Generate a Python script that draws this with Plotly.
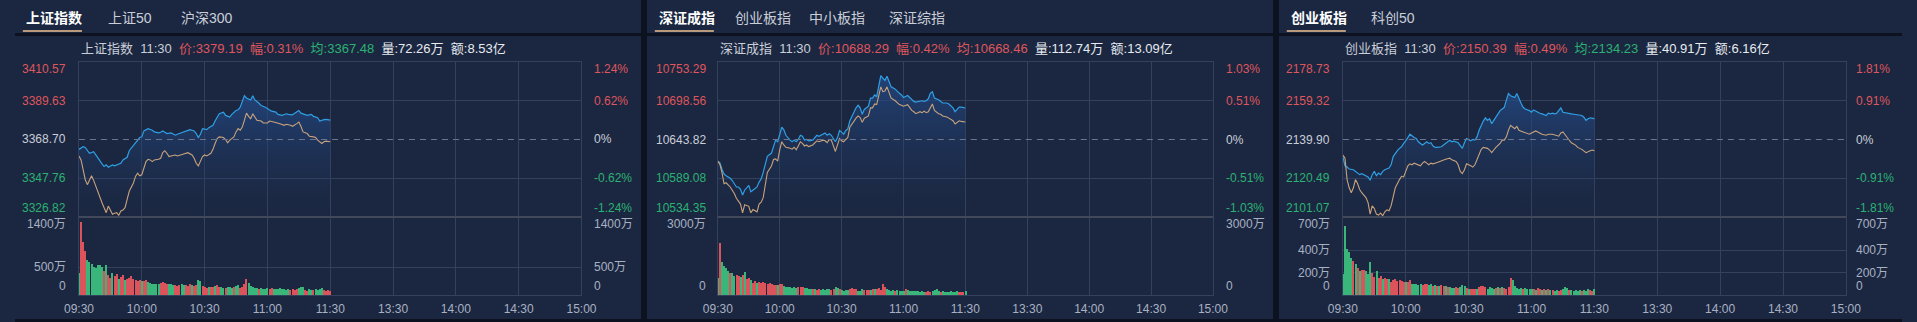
import plotly.graph_objects as go

# ---------------- data ----------------
time_ticks = [0, 30, 60, 90, 120, 150, 180, 210, 240]
time_labels = ['09:30', '10:00', '10:30', '11:00', '11:30', '13:30', '14:00', '14:30', '15:00']

# Panel 1 : 上证指数
sh_prev = 3368.70
sh_price_ticks = [3326.82, 3347.76, 3368.70, 3389.63, 3410.57]
sh_pct_labels = ['-1.24%', '-0.62%', '0%', '0.62%', '1.24%']
sh_vol_ticks = [0, 500, 1400]
sh_vol_labels = ['0', '500万', '1400万']
sh_price_min = [0, 2, 3, 4, 5, 7, 8, 9, 10, 11, 12, 13, 14, 16, 17, 19, 20, 21, 23, 24, 26, 28, 29, 30, 31, 33, 35, 36, 38, 39,
                40, 41, 42, 44, 46, 47, 49, 50, 52, 53, 55, 56, 57, 58, 59, 61, 62, 64, 65, 67, 69, 70, 72, 73, 75, 76, 77, 78, 79, 80,
                82, 83, 84, 86, 87, 89, 91, 92, 94, 95, 97, 99, 100, 102, 103, 105, 106, 107, 109, 111, 112, 114, 115, 117, 118, 120]
sh_price = [3363.36, 3364.78, 3364.43, 3362.64, 3361.22, 3362.11, 3360.33, 3358.55, 3356.77, 3355.52,
            3354.10, 3354.99, 3353.74, 3354.99, 3354.45, 3355.52, 3355.88, 3357.66, 3359.08, 3362.64,
            3365.67, 3368.34, 3369.77, 3370.12, 3373.33, 3374.58, 3373.69, 3372.80, 3372.26, 3372.62,
            3373.33, 3372.62, 3371.91, 3372.26, 3371.02, 3371.55, 3372.26, 3372.80, 3373.33, 3374.04,
            3373.33, 3371.91, 3369.77, 3371.55, 3374.58, 3374.04, 3375.11, 3376.36, 3378.67, 3382.59,
            3383.48, 3381.70, 3380.81, 3382.24, 3384.37, 3384.73, 3386.15, 3389.72, 3392.39, 3391.14,
            3390.07, 3392.39, 3390.07, 3388.29, 3387.04, 3386.15, 3384.73, 3384.02, 3383.48, 3382.24,
            3381.70, 3382.59, 3382.24, 3382.06, 3382.95, 3384.37, 3382.95, 3382.59, 3381.70, 3382.24,
            3381.17, 3380.45, 3378.67, 3379.39, 3379.56, 3379.19]
sh_avg_min = [0, 1, 2, 3, 4, 5, 6, 7, 8, 9, 10, 11, 12, 13, 14, 15, 16, 17, 18, 19, 20, 21, 22, 23, 24,
              26, 27, 28, 29, 30, 31, 32, 33, 34, 35, 36, 38, 39, 40, 41, 42, 43, 44, 46, 47, 49, 50,
              52, 53, 54, 55, 56, 57, 58, 59, 60, 61, 63, 64, 65, 66, 67, 69, 70, 71, 72,
              74, 75, 76, 77, 78, 79, 80, 81, 82, 83, 84, 85, 87, 88, 90, 91, 93, 95, 96, 98, 99,
              101, 102, 104, 105, 106, 107, 109, 110, 112, 113, 114, 116, 117, 118, 120]
sh_avg = [3359.79, 3357.66, 3352.31, 3346.97, 3344.30, 3346.97, 3349.11, 3346.62, 3343.41, 3339.85,
          3337.18, 3334.50, 3331.83, 3329.16, 3332.72, 3330.05, 3328.27, 3328.81, 3329.16, 3327.74,
          3330.05, 3330.59, 3331.83, 3336.29, 3340.74, 3345.19, 3348.75, 3350.53, 3349.11, 3349.64,
          3352.67, 3356.77, 3358.01, 3357.66, 3356.77, 3357.66, 3358.01, 3358.55, 3361.58, 3362.64,
          3361.22, 3359.44, 3359.79, 3360.33, 3359.79, 3360.33, 3360.86, 3361.58, 3360.86, 3360.33,
          3358.55, 3355.88, 3354.45, 3356.77, 3359.44, 3360.33, 3359.79, 3361.22, 3363.36, 3366.56,
          3369.23, 3370.12, 3369.77, 3368.70, 3366.92, 3368.34, 3370.12, 3372.80, 3374.58, 3373.69,
          3375.47, 3379.03, 3382.95, 3381.17, 3379.92, 3382.59, 3380.45, 3379.03, 3378.67, 3377.61,
          3377.61, 3378.67, 3378.14, 3377.61, 3377.25, 3376.36, 3376.89, 3376.36, 3375.82, 3377.25,
          3378.14, 3375.82, 3372.80, 3371.91, 3370.48, 3370.12, 3369.77, 3368.34, 3366.56, 3367.45,
          3367.81, 3367.48]
sh_vol = [394, 1305, 953, 794, 629, 600, 559, 500, 488, 547, 547, 500, 429, 541, 353, 312, 394, 335, 370, 294,
          323, 353, 265, 294, 312, 335, 294, 265, 247, 265, 247, 247, 265, 229, 218, 206, 206, 194, 206, 218,
          229, 218, 206, 194, 206, 176, 171, 159, 171, 194, 171, 176, 159, 194, 171, 159, 176, 265, 247, 159,
          147, 124, 147, 135, 147, 159, 176, 147, 135, 124, 118, 147, 135, 124, 135, 159, 176, 118, 147, 206,
          288, 218, 159, 135, 124, 118, 112, 118, 112, 106, 118, 112, 124, 100, 112, 100, 118, 100, 112, 88,
          100, 88, 100, 88, 106, 124, 135, 147, 88, 76, 112, 88, 88, 100, 88, 112, 124, 88, 76, 88, 76]
sh_vol_dir = list("GRRRGGGGGG" "GGRGRRGRRG" "RRGRRRRRRR" "GRRGGGGGGR" "RRRGGGRRRG" "GRRRGRRGGR"
                  "RRGRRGRRGG" "RGGGRGGRRR" "RGGGGGRGGG" "GRRGGGGGGG" "GRRRRGGGRR" "GGRGGGGRRR" "R")

# Panel 2 : 深证成指
sz_prev = 10643.82
sz_price_ticks = [10534.35, 10589.08, 10643.82, 10698.56, 10753.29]
sz_pct_labels = ['-1.03%', '-0.51%', '0%', '0.51%', '1.03%']
sz_vol_ticks = [0, 3000]
sz_vol_labels = ['0', '3000万']
sz_min = [0, 1, 2, 3, 4, 6, 7, 8, 9, 10, 11, 12, 13, 15, 16, 17, 18, 19, 20, 21, 22, 23, 24, 26, 27, 28, 29, 30,
          31, 32, 33, 35, 36, 37, 38, 39, 40, 41, 42, 43, 44, 46, 47, 48, 49, 51, 52, 53, 54, 55, 57, 58, 59, 60,
          61, 62, 63, 64, 66, 67, 68, 69, 70, 71, 73, 74, 75, 76, 77, 78, 79, 80, 81, 82, 83, 84, 86, 87, 88, 89,
          90, 92, 93, 94, 95, 96, 98, 99, 100, 101, 102, 103, 104, 105, 107, 108, 109, 111, 112, 114, 115, 116,
          117, 118, 120]
sz_price = [10613.25, 10610.97, 10601.85, 10595.01, 10592.73, 10589.08, 10585.88, 10581.32, 10576.76, 10576.76,
            10573.57, 10565.35, 10572.20, 10579.04, 10569.92, 10572.20, 10574.48, 10576.76, 10583.60, 10588.16,
            10597.29, 10610.97, 10620.10, 10624.66, 10632.87, 10642.91, 10640.63, 10649.75, 10661.16, 10657.51,
            10649.75, 10642.91, 10640.63, 10642.91, 10640.63, 10643.82, 10649.75, 10648.38, 10642.91, 10643.82,
            10642.00, 10642.91, 10646.56, 10649.75, 10648.38, 10652.03, 10652.94, 10649.75, 10652.03, 10649.75,
            10640.63, 10646.56, 10656.59, 10654.31, 10651.12, 10656.59, 10658.87, 10670.28, 10683.97, 10688.53,
            10692.18, 10688.53, 10679.40, 10686.25, 10690.81, 10702.21, 10702.21, 10706.78, 10704.49, 10720.46,
            10734.15, 10730.50, 10727.30, 10733.24, 10724.11, 10718.18, 10714.99, 10711.34, 10709.06, 10706.78,
            10703.13, 10705.86, 10703.13, 10701.30, 10697.65, 10696.74, 10697.65, 10698.56, 10697.65, 10698.56,
            10701.30, 10709.06, 10711.34, 10702.21, 10699.93, 10697.65, 10695.37, 10695.37, 10694.00, 10688.53,
            10683.05, 10686.25, 10689.44, 10689.44, 10688.29]
sz_avg = [10613.25, 10608.69, 10597.29, 10581.32, 10582.69, 10576.76, 10572.20, 10567.63, 10560.79, 10557.14,
          10552.58, 10540.26, 10551.67, 10549.39, 10540.26, 10544.83, 10543.46, 10541.63, 10552.58, 10555.32,
          10561.70, 10579.04, 10597.29, 10606.41, 10615.54, 10616.45, 10613.25, 10629.22, 10640.63, 10636.06,
          10632.87, 10631.50, 10630.13, 10632.87, 10629.22, 10634.70, 10640.63, 10638.35, 10634.70, 10636.06,
          10633.78, 10636.06, 10638.35, 10642.00, 10640.63, 10642.91, 10642.00, 10639.26, 10643.82, 10642.91,
          10626.94, 10636.06, 10645.19, 10642.00, 10640.63, 10643.82, 10646.56, 10661.16, 10670.28, 10673.93,
          10677.12, 10674.84, 10668.00, 10673.93, 10677.12, 10688.53, 10688.53, 10694.00, 10693.09, 10704.49,
          10718.18, 10711.34, 10712.25, 10718.18, 10709.06, 10702.21, 10698.56, 10695.37, 10693.09, 10692.18,
          10690.81, 10693.09, 10688.53, 10684.88, 10683.05, 10680.32, 10683.05, 10681.68, 10683.97, 10681.68,
          10683.05, 10688.53, 10694.00, 10684.88, 10680.32, 10679.40, 10677.12, 10675.75, 10673.93, 10670.28,
          10665.72, 10668.00, 10670.28, 10669.37, 10668.46]
sz_vol = [641, 2013, 1282, 1115, 1026, 936, 833, 859, 731, 769, 731, 679, 769, 872, 603, 641, 577, 474, 551, 449,
          513, 474, 513, 449, 423, 474, 423, 385, 385, 385, 423, 410, 346, 321, 295, 295, 282, 295, 269, 321,
          321, 295, 256, 256, 244, 244, 218, 244, 192, 218, 192, 218, 192, 218, 244, 192, 218, 295, 256, 218,
          192, 167, 192, 179, 218, 256, 244, 218, 167, 167, 218, 192, 192, 192, 192, 218, 244, 218, 256, 192,
          423, 321, 218, 192, 167, 192, 167, 192, 167, 141, 167, 218, 192, 167, 141, 167, 141, 141, 128, 167,
          128, 128, 141, 128, 141, 192, 218, 141, 128, 141, 128, 115, 128, 141, 115, 128, 141, 115, 128, 115, 141]
sz_vol_dir = list("GRGGGGRGGR" "RGRGRRGRRG" "RRRRRRRRRG" "RRGGGGGGGR" "RRGGGGRGRR" "GGGGGRRGGR"
                  "GGGGRRRRGG" "GRRRGRGRRR" "RRGGGGRGGG" "GRGGGGGGGG" "GRRRGGGGRG" "GGGGGGGRRR" "G")

# Panel 3 : 创业板指
cy_prev = 2139.90
cy_price_ticks = [2101.07, 2120.49, 2139.90, 2159.32, 2178.73]
cy_pct_labels = ['-1.81%', '-0.91%', '0%', '0.91%', '1.81%']
cy_vol_ticks = [0, 200, 400, 700]
cy_vol_labels = ['0', '200万', '400万', '700万']
cy_price_min = [0, 1, 2, 3, 5, 6, 7, 8, 9, 11, 12, 13, 14, 15, 16, 17, 18, 19, 20, 22, 23, 24, 25, 26, 27, 28, 29, 30,
                32, 33, 34, 35, 36, 37, 38, 39, 40, 41, 42, 43, 44, 45, 47, 48, 49, 50, 51, 52, 53, 55, 56, 57, 58,
                59, 61, 62, 63, 64, 65, 66, 67, 68, 69, 70, 71, 72, 73, 74, 75, 76, 77, 78, 79, 80, 82, 83, 84, 85,
                86, 87, 89, 90, 91, 92, 93, 94, 95, 97, 98, 99, 100, 101, 102, 103, 104, 105, 107, 108, 109, 111,
                112, 114, 115, 116, 117, 118, 120]
cy_price = [2131.34, 2126.73, 2126.07, 2125.09, 2124.76, 2123.93, 2123.44, 2122.29, 2122.78, 2121.79,
            2121.14, 2119.49, 2122.29, 2123.93, 2121.79, 2123.11, 2122.29, 2123.93, 2124.76, 2125.58,
            2127.23, 2131.34, 2132.99, 2134.30, 2135.46, 2136.28, 2137.92, 2139.24, 2142.53, 2141.55,
            2140.89, 2140.39, 2138.75, 2137.92, 2137.10, 2137.92, 2138.75, 2137.92, 2138.25, 2136.61,
            2135.95, 2135.95, 2136.28, 2137.10, 2137.92, 2138.75, 2139.57, 2138.75, 2139.08, 2138.25,
            2137.10, 2135.46, 2138.25, 2140.39, 2139.24, 2139.90, 2139.57, 2141.22, 2144.51, 2146.98,
            2149.12, 2150.76, 2149.45, 2150.27, 2147.80, 2149.45, 2151.09, 2152.74, 2154.38, 2155.21,
            2156.03, 2159.65, 2162.94, 2161.79, 2160.97, 2162.94, 2160.15, 2158.01, 2156.03, 2155.21,
            2154.38, 2153.56, 2154.71, 2154.06, 2153.56, 2153.07, 2152.74, 2151.92, 2153.07, 2152.74,
            2153.07, 2152.74, 2153.07, 2154.38, 2155.70, 2153.56, 2153.07, 2152.74, 2152.74, 2152.41,
            2152.25, 2151.92, 2151.09, 2149.45, 2150.27, 2150.76, 2150.39]
cy_avg_min = [0, 1, 2, 3, 4, 5, 6, 7, 8, 9, 11, 12, 13, 14, 15, 16, 17, 18, 19, 20, 21, 22, 23, 24, 25, 27, 28, 29,
              30, 31, 32, 33, 34, 36, 37, 38, 39, 40, 41, 42, 43, 45, 46, 48, 49, 51, 52, 54, 55, 56, 57, 58, 59,
              61, 62, 63, 64, 65, 66, 67, 69, 70, 71, 72, 73, 75, 76, 77, 78, 79, 80, 81, 82, 83, 84, 86, 87, 89,
              90, 92, 93, 94, 95, 97, 98, 100, 102, 103, 104, 105, 107, 108, 109, 111, 112, 114, 115, 116, 118,
              119, 120]
cy_avg = [2132.16, 2130.52, 2119.82, 2115.70, 2113.23, 2115.70, 2119.82, 2117.84, 2114.88, 2113.23,
          2110.77, 2108.30, 2102.54, 2106.65, 2105.33, 2102.54, 2102.04, 2103.03, 2101.71, 2103.69,
          2104.68, 2104.18, 2106.65, 2111.59, 2115.70, 2119.82, 2121.46, 2121.14, 2123.93, 2126.73,
          2127.72, 2127.23, 2128.05, 2127.23, 2126.73, 2128.05, 2128.87, 2128.05, 2127.23, 2128.05,
          2127.72, 2128.38, 2128.87, 2129.69, 2130.02, 2130.52, 2129.69, 2128.87, 2127.23, 2123.93,
          2122.78, 2124.76, 2127.72, 2126.73, 2126.07, 2127.23, 2129.69, 2132.99, 2134.96, 2135.95,
          2135.46, 2134.63, 2133.32, 2134.63, 2135.95, 2137.92, 2139.57, 2139.57, 2141.22, 2144.51,
          2146.98, 2146.15, 2145.33, 2146.48, 2144.51, 2143.69, 2143.19, 2142.53, 2143.19, 2144.18,
          2143.69, 2143.19, 2142.53, 2142.04, 2142.53, 2142.53, 2142.04, 2141.55, 2143.19, 2143.69,
          2140.89, 2139.57, 2138.25, 2137.10, 2135.95, 2134.96, 2134.30, 2133.32, 2134.30, 2134.63,
          2134.23]
cy_vol = [185, 617, 412, 382, 332, 303, 279, 244, 215, 226, 226, 215, 191, 294, 197, 162, 215, 156, 168, 144,
          150, 144, 147, 115, 132, 147, 126, 132, 126, 118, 121, 121, 132, 103, 97, 97, 94, 97, 91, 103,
          97, 91, 97, 85, 88, 79, 85, 88, 85, 79, 74, 68, 62, 65, 68, 62, 68, 88, 79, 62,
          56, 50, 56, 50, 56, 68, 79, 79, 68, 56, 68, 62, 56, 62, 68, 59, 68, 62, 56, 74,
          150, 132, 79, 62, 56, 62, 56, 62, 56, 50, 56, 50, 44, 62, 50, 44, 50, 44, 50, 44,
          44, 38, 44, 38, 44, 50, 68, 62, 44, 44, 38, 44, 38, 44, 38, 44, 38, 50, 44, 38, 50]
cy_vol_dir = list("GGGGGRGRGR" "RGGGRRGRRG" "RRGRRRRRRR" "GRRGGGGGRR" "RGGRGRGRRG" "RGGGRRGGGR"
                  "GRRRGRRRRG" "GGGRGRGRRR" "RGGGGGRGGG" "GRGRRGRGRG" "RGGRRGGGRG" "GGGGRGGGRR" "G")

# header texts
sh_tabs = ['上证指数', '上证50', '沪深300']
sz_tabs = ['深证成指', '创业板指', '中小板指', '深证综指']
cy_tabs = ['创业板指', '科创50']
sh_info = dict(name='上证指数', time='11:30', price='3379.19', chg='0.31%', avg='3367.48', vol='72.26万', amt='8.53亿')
sz_info = dict(name='深证成指', time='11:30', price='10688.29', chg='0.42%', avg='10668.46', vol='112.74万', amt='13.09亿')
cy_info = dict(name='创业板指', time='11:30', price='2150.39', chg='0.49%', avg='2134.23', vol='40.91万', amt='6.16亿')

# ---------------- style / layout ----------------
W, H = 1917, 322
BG = '#1b2741'
DARK = '#0c121f'
GRID = '#33415d'
SEP = '#464b58'
RED = '#df565c'
GREEN = '#2cb172'
GREY = '#a9b1c1'
LIGHT = '#c9ced8'
WHITE = '#e8ebf0'
BLUE = '#2f9fe5'
TAN = '#c8a27d'
BAR_RED = '#dc545b'
BAR_GREEN = '#3ab67a'
UNDER = '#b99a7c'
FONT = 'Liberation Sans, Noto Sans CJK SC, sans-serif'

PRICE_TOP, PRICE_BOT, VOL_BOT = 62, 217, 295


def fx(p):
    return p / W


def fy(p):
    return 1 - p / H


panels = [
    dict(left=65, right=575.5, llab=54, rlab=586, tabx=[9, 92, 167], ul=(8, 68), tabs=sh_tabs, info=sh_info,
         prev=sh_prev, pt=sh_price_ticks, pct=sh_pct_labels, vt=sh_vol_ticks, vl=sh_vol_labels,
         pm=sh_price_min, p=sh_price, am=sh_avg_min, a=sh_avg, v=sh_vol, vd=sh_vol_dir),
    dict(left=714, right=1217, llab=704, rlab=1228, tabx=[652, 729, 805, 886], ul=(650, 710), tabs=sz_tabs,
         info=sz_info, prev=sz_prev, pt=sz_price_ticks, pct=sz_pct_labels, vt=sz_vol_ticks, vl=sz_vol_labels,
         pm=sz_min, p=sz_price, am=sz_min, a=sz_avg, v=sz_vol, vd=sz_vol_dir),
    dict(left=1349, right=1860, llab=1338, rlab=1868, tabx=[1294, 1376], ul=(1292, 1352), tabs=cy_tabs,
         info=cy_info, prev=cy_prev, pt=cy_price_ticks, pct=cy_pct_labels, vt=cy_vol_ticks, vl=cy_vol_labels,
         pm=cy_price_min, p=cy_price, am=cy_avg_min, a=cy_avg, v=cy_vol, vd=cy_vol_dir),
]

fig = go.Figure()
layout = dict(width=W, height=H, margin=dict(l=0, r=0, t=0, b=0), paper_bgcolor=BG, plot_bgcolor=BG,
              showlegend=False, font=dict(family=FONT, color=GREY, size=12), bargap=0)
annotations = []
shapes = []


def aid(n):
    return '' if n == 1 else str(n)


label_colors = [GREEN, GREEN, LIGHT, RED, RED]
label_anchor = ['bottom', 'middle', 'middle', 'middle', 'top']
label_shift = [0, 0, 0, 0, 2]

for k, pn in enumerate(panels):
    n_p, n_v = 2 * k + 1, 2 * k + 2
    xp, yp = 'x' + aid(n_p), 'y' + aid(n_p)
    xv, yv = 'x' + aid(n_v), 'y' + aid(n_v)
    dom = [fx(pn['left']), fx(pn['right'])]
    pt = pn['pt']
    common_x = dict(domain=dom, range=[0, 240], tickmode='array', tickvals=time_ticks, showgrid=True,
                    gridcolor=GRID, gridwidth=1, zeroline=False, showline=True, linecolor=GRID, linewidth=1,
                    mirror=True, ticks='', fixedrange=True)
    layout['xaxis' + aid(n_p)] = dict(common_x, anchor=yp, showticklabels=False)
    layout['xaxis' + aid(n_v)] = dict(common_x, anchor=yv, showticklabels=True, ticktext=time_labels,
                                      tickfont=dict(size=12, color=GREY, family=FONT), ticklabelstandoff=3)
    layout['yaxis' + aid(n_p)] = dict(domain=[fy(PRICE_BOT), fy(PRICE_TOP)], range=[pt[0], pt[-1]], anchor=xp,
                                      tickmode='array', tickvals=[pt[1], pt[3]], showticklabels=False,
                                      showgrid=True, gridcolor=GRID, zeroline=False, showline=True,
                                      linecolor=GRID, mirror=True, fixedrange=True)
    vgrid = [t for t in pn['vt'] if 0 < t < pn['vt'][-1]]
    layout['yaxis' + aid(n_v)] = dict(domain=[fy(VOL_BOT), fy(PRICE_BOT)], range=[0, pn['vt'][-1]], anchor=xv,
                                      tickmode='array', tickvals=vgrid, showticklabels=False,
                                      showgrid=True, gridcolor=GRID, zeroline=False, showline=True,
                                      linecolor=GRID, mirror=True, fixedrange=True)

    # price with gradient fill
    fig.add_trace(go.Scatter(x=pn['pm'], y=pn['p'], mode='lines', line=dict(color=BLUE, width=1.2),
                             fill='tozeroy',
                             fillgradient=dict(type='vertical',
                                               colorscale=[[0, 'rgba(30,50,85,0.0)'], [1, 'rgba(36,76,138,0.75)']],
                                               start=pt[0], stop=max(pn['p'])),
                             xaxis=xp, yaxis=yp, hoverinfo='skip'))
    fig.add_trace(go.Scatter(x=pn['am'], y=pn['a'], mode='lines', line=dict(color=TAN, width=1.1),
                             xaxis=xp, yaxis=yp, hoverinfo='skip'))
    # volume bars
    fig.add_trace(go.Bar(x=list(range(len(pn['v']))), y=pn['v'],
                         marker=dict(color=[BAR_RED if d == 'R' else BAR_GREEN for d in pn['vd']], line_width=0),
                         width=0.5, xaxis=xv, yaxis=yv, hoverinfo='skip'))

    # dashed previous close line
    shapes.append(dict(type='line', xref=xp + ' domain', x0=0, x1=1, yref=yp, y0=pn['prev'], y1=pn['prev'],
                       line=dict(color='#6c7590', width=1, dash='6px,5px'), layer='above'))
    # price / volume separator
    shapes.append(dict(type='line', xref='paper', x0=dom[0], x1=dom[1], yref='paper', y0=fy(PRICE_BOT),
                       y1=fy(PRICE_BOT), line=dict(color=SEP, width=1.6), layer='above'))

    # price axis labels (left) and percentage labels (right)
    for i, v in enumerate(pt):
        txt_l = '%.2f' % v
        for xx, anchor, txt in ((pn['llab'], 'right', txt_l), (pn['rlab'], 'left', pn['pct'][i])):
            annotations.append(dict(xref='paper', x=fx(xx), xanchor=anchor, yref=yp, y=v,
                                    yanchor=label_anchor[i], yshift=label_shift[i], text=txt, showarrow=False,
                                    font=dict(size=12, color=label_colors[i], family=FONT)))
    # volume labels
    vmax = pn['vt'][-1]
    for v, lab in zip(pn['vt'], pn['vl']):
        ya = 'bottom' if v == 0 else ('top' if v == vmax else 'middle')
        ys = 2 if v == vmax else 0
        for xx, anchor in ((pn['llab'], 'right'), (pn['rlab'], 'left')):
            annotations.append(dict(xref='paper', x=fx(xx), xanchor=anchor, yref=yv, y=v, yanchor=ya, yshift=ys,
                                    text=lab, showarrow=False, font=dict(size=12, color=GREY, family=FONT)))

    # info line
    info = pn['info']
    avg_col = RED if float(info['avg']) > pn['prev'] else GREEN
    sp = '&nbsp; '
    info_txt = (f"<span style='color:{LIGHT}'>{info['name']}{sp}{info['time']}</span>{sp}"
                f"<span style='color:{RED}'>价:{info['price']}</span>{sp}"
                f"<span style='color:{RED}'>幅:{info['chg']}</span>{sp}"
                f"<span style='color:{avg_col}'>均:{info['avg']}</span>{sp}"
                f"<span style='color:{WHITE}'>量:{info['vol']}</span>{sp}"
                f"<span style='color:{WHITE}'>额:{info['amt']}</span>")
    annotations.append(dict(xref='paper', yref='paper', x=fx(pn['left']), y=fy(48), xanchor='left',
                            yanchor='middle', text=info_txt, showarrow=False,
                            font=dict(size=13, family=FONT, color=LIGHT)))

    # tabs
    for j, (tx, tab) in enumerate(zip(pn['tabx'], pn['tabs'])):
        annotations.append(dict(xref='paper', yref='paper', x=fx(tx), y=fy(18), xanchor='left', yanchor='middle',
                                text=f'<b>{tab}</b>' if j == 0 else tab, showarrow=False,
                                font=dict(size=14, family=FONT, color='#ffffff' if j == 0 else LIGHT)))
    shapes.append(dict(type='rect', xref='paper', yref='paper', x0=fx(pn['ul'][0]), x1=fx(pn['ul'][1]),
                       y0=fy(32), y1=fy(30), line_width=0, fillcolor=UNDER, layer='above'))

# dark separators
for (x0, x1, y0, y1) in [(0, W, 33, 36), (0, W, 319, 322), (636, 642, 0, H), (1278, 1284, 0, H)]:
    shapes.append(dict(type='rect', xref='paper', yref='paper', x0=fx(x0), x1=fx(x1), y0=fy(y1), y1=fy(y0),
                       line_width=0, fillcolor=DARK, layer='above'))

layout['annotations'] = annotations
layout['shapes'] = shapes
fig.update_layout(**layout)
fig.write_html('out.html')
